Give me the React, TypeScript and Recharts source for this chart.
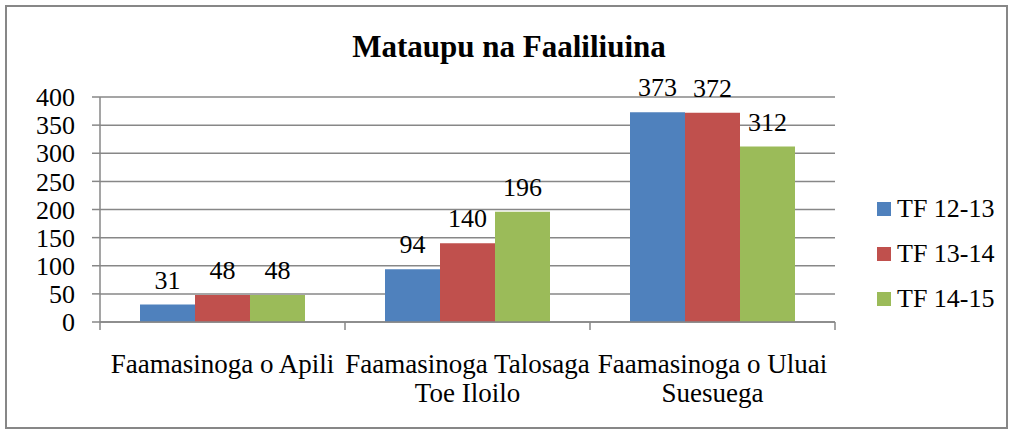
import React from 'react'
import {
  BarChart,
  Bar,
  XAxis,
  YAxis,
  CartesianGrid,
  LabelList,
  Legend,
} from 'recharts'

const categories = [
  'Faamasinoga o Apili',
  'Faamasinoga Talosaga Toe Iloilo',
  'Faamasinoga o Uluai Suesuega',
]
const tf1213 = [31, 94, 373]
const tf1314 = [48, 140, 372]
const tf1415 = [48, 196, 312]
const seriesKeys = ['tf1213', 'tf1314', 'tf1415']
const seriesNames = ['TF 12-13', 'TF 13-14', 'TF 14-15']
const seriesColors = ['#4F81BD', '#C0504D', '#9BBB59']
const yTicks = [0, 50, 100, 150, 200, 250, 300, 350, 400]
const title = 'Mataupu na Faaliliuina'

const FONT = "'Liberation Serif', 'Times New Roman', Times, serif"
const GRAY = '#878787'

const data = categories.map((name, i) => ({
  name,
  tf1213: tf1213[i],
  tf1314: tf1314[i],
  tf1415: tf1415[i],
}))

const wrap = (text: string, max: number) => {
  const words = text.split(' ')
  const lines: string[] = []
  let cur = ''
  words.forEach((w) => {
    const next = cur ? cur + ' ' + w : w
    if (next.length > max && cur) {
      lines.push(cur)
      cur = w
    } else {
      cur = next
    }
  })
  if (cur) lines.push(cur)
  return lines
}

// label plus tick marks on the category boundaries (Excel style)
const CategoryTick = ({ x, y, payload, index }: any) => {
  const half = payload.offset || 0
  const lines = wrap(String(payload.value), 20)
  const last = index === categories.length - 1
  return (
    <g>
      <line x1={x - half} y1={y} x2={x - half} y2={y + 8} stroke={GRAY} strokeWidth={1.5} />
      {last && <line x1={x + half} y1={y} x2={x + half} y2={y + 8} stroke={GRAY} strokeWidth={1.5} />}
      <text x={x} y={y + 51} textAnchor="middle" fontFamily={FONT} fontSize={27} fill="#000">
        {lines.map((l, i) => (
          <tspan key={i} x={x} dy={i === 0 ? 0 : 29}>
            {l}
          </tspan>
        ))}
      </text>
    </g>
  )
}

const LegendContent = () => (
  <div style={{ fontFamily: FONT, fontSize: 26, color: '#000' }}>
    {seriesNames.map((n, i) => (
      <div key={n} style={{ display: 'flex', alignItems: 'center', height: 45 }}>
        <span
          style={{
            display: 'inline-block',
            width: 14,
            height: 14,
            background: seriesColors[i],
            marginRight: 6,
          }}
        />
        <span style={{ lineHeight: '26px', whiteSpace: 'nowrap' }}>{n}</span>
      </div>
    ))}
  </div>
)

export default function App() {
  return (
    <div style={{ position: 'absolute', left: 0, top: 0, width: 1013, height: 433, background: '#fff' }}>
      <div
        style={{
          position: 'absolute',
          left: 5,
          top: 5,
          width: 1003,
          height: 424,
          border: `2px solid ${GRAY}`,
          boxSizing: 'border-box',
        }}
      />
      <div
        style={{
          position: 'absolute',
          left: 0,
          top: 32,
          width: 1018,
          textAlign: 'center',
          fontFamily: FONT,
          fontSize: 31,
          lineHeight: '30px',
          fontWeight: 'bold',
          color: '#000',
        }}
      >
        {title}
      </div>
      <div style={{ position: 'absolute', left: 0, top: 0 }}>
        <BarChart
          width={1013}
          height={433}
          data={data}
          margin={{ top: 97, right: 178, bottom: 0, left: 0 }}
          barCategoryGap={40}
          barGap={0}
        >
          <CartesianGrid vertical={false} stroke={GRAY} strokeWidth={1.5} />
          <XAxis
            dataKey="name"
            interval={0}
            tickLine={false}
            tickSize={0}
            tickMargin={0}
            axisLine={{ stroke: GRAY, strokeWidth: 1.5 }}
            tick={<CategoryTick />}
            height={111}
          />
          <YAxis
            width={100}
            domain={[0, 400]}
            ticks={yTicks}
            interval={0}
            tickSize={8}
            tickMargin={17}
            axisLine={{ stroke: GRAY, strokeWidth: 1.5 }}
            tickLine={{ stroke: GRAY, strokeWidth: 1.5 }}
            tick={{ fontFamily: FONT, fontSize: 26, fill: '#000' }}
          />
          <Legend
            layout="horizontal"
            align="center"
            verticalAlign="middle"
            content={<LegendContent />}
            wrapperStyle={{ left: 877, top: 186, width: 'auto', height: 'auto' }}
          />
          {seriesKeys.map((k, i) => (
            <Bar key={k} dataKey={k} name={seriesNames[i]} fill={seriesColors[i]} isAnimationActive={false}>
              <LabelList
                dataKey={k}
                position="top"
                offset={16}
                fontFamily={FONT}
                fontSize={26}
                fill="#000"
              />
            </Bar>
          ))}
        </BarChart>
      </div>
    </div>
  )
}
